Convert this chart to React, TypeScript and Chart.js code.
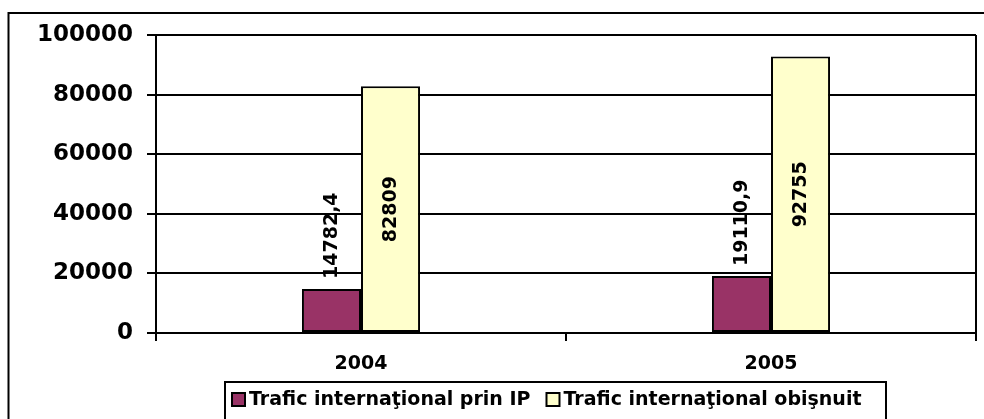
import React, { useEffect, useRef } from 'react';
import { Chart, registerables } from 'chart.js';

Chart.register(...registerables);

const categories = ['2004', '2005'];
const seriesNames = ['Trafic internaţional prin IP', 'Trafic internaţional obişnuit'];
const ipTraffic = [14782.4, 19110.9];
const regularTraffic = [82809, 92755];
const yMin = 0;
const yMax = 100000;
const yStep = 20000;
const seriesColors = ['#993366', '#FFFFCC'];

const FONT = '"DejaVu Sans", Verdana, sans-serif';

const formatValue = (v: number) => String(v).replace('.', ',');

const decorPlugin = {
  id: 'decor',
  afterDatasetsDraw(chart: any) {
    const ctx = chart.ctx;
    ctx.save();
    chart.data.datasets.forEach((ds: any, di: number) => {
      const meta = chart.getDatasetMeta(di);
      meta.data.forEach((bar: any, i: number) => {
        const text = formatValue(ds.data[i]);
        ctx.save();
        ctx.font = `bold 19px ${FONT}`;
        ctx.fillStyle = '#000';
        const y = di === 0 ? bar.y - 10 : (bar.y + bar.base) / 2;
        ctx.translate(bar.x + 1, y);
        ctx.rotate(-Math.PI / 2);
        ctx.textBaseline = 'middle';
        ctx.textAlign = di === 0 ? 'left' : 'center';
        ctx.fillText(text, 0, 0);
        ctx.restore();
      });
    });
    ctx.restore();
  },
  afterDraw(chart: any) {
    const ctx = chart.ctx;
    const ca = chart.chartArea;
    ctx.save();
    ctx.strokeStyle = '#000';
    ctx.lineWidth = 2;
    // outer chart border (cut off at right/bottom)
    ctx.beginPath();
    ctx.moveTo(8.5, 1000);
    ctx.lineTo(8.5, 13);
    ctx.lineTo(2000, 13);
    ctx.stroke();
    // plot area right border
    ctx.beginPath();
    ctx.moveTo(Math.round(ca.right), ca.top);
    ctx.lineTo(Math.round(ca.right), ca.bottom);
    ctx.stroke();
    // legend
    ctx.strokeRect(225, 382, 661, 80);
    ctx.font = `bold 19px ${FONT}`;
    ctx.textBaseline = 'middle';
    ctx.textAlign = 'left';
    const cy = 399.5;
    let x = 232;
    chart.data.datasets.forEach((ds: any) => {
      ctx.fillStyle = ds.backgroundColor;
      ctx.fillRect(x, cy - 6.5, 13, 13);
      ctx.lineWidth = 2;
      ctx.strokeStyle = '#000';
      ctx.strokeRect(x, cy - 6.5, 13, 13);
      ctx.fillStyle = '#000';
      ctx.fillText(ds.label, x + 17, cy + 1);
      x += 17 + ctx.measureText(ds.label).width + 16;
    });
    ctx.restore();
  },
};

export default function App() {
  const ref = useRef<HTMLCanvasElement | null>(null);

  useEffect(() => {
    if (!ref.current) return;
    const chart = new Chart(ref.current, {
      type: 'bar',
      data: {
        labels: categories,
        datasets: [
          {
            label: seriesNames[0],
            data: ipTraffic,
            backgroundColor: seriesColors[0],
            borderColor: '#000',
            borderWidth: 2,
            borderSkipped: false,
          },
          {
            label: seriesNames[1],
            data: regularTraffic,
            backgroundColor: seriesColors[1],
            borderColor: '#000',
            borderWidth: 2,
            borderSkipped: false,
          },
        ],
      },
      options: {
        animation: false,
        responsive: true,
        maintainAspectRatio: false,
        layout: { padding: { left: 0, right: 8, top: 35, bottom: 0 } },
        datasets: { bar: { barPercentage: 1, categoryPercentage: 0.288 } },
        plugins: {
          legend: { display: false },
          tooltip: { enabled: false },
        },
        scales: {
          x: {
            offset: true,
            grid: {
              offset: true,
              drawOnChartArea: false,
              drawTicks: true,
              tickLength: 8,
              color: '#000',
              lineWidth: 2,
            },
            border: { display: true, color: '#000', width: 2 },
            ticks: {
              color: '#000',
              padding: 12,
              font: { family: FONT, size: 19, weight: 'bold' },
            },
            afterFit: (scale: any) => {
              scale.height = 419 - 333;
            },
          },
          y: {
            min: yMin,
            max: yMax,
            ticks: {
              stepSize: yStep,
              color: '#000',
              padding: 14,
              font: { family: FONT, size: 23, weight: 'bold' },
              callback: (v: any) => String(v),
            },
            grid: { color: '#000', lineWidth: 2, tickLength: 9, drawTicks: true },
            border: { display: true, color: '#000', width: 2 },
            afterFit: (scale: any) => {
              scale.width = 156;
            },
          },
        },
      },
      plugins: [decorPlugin],
    });
    return () => chart.destroy();
  }, []);

  return (
    <div style={{ position: 'fixed', left: 0, top: 0, width: 984, height: 419, background: '#fff' }}>
      <canvas ref={ref} />
    </div>
  );
}
